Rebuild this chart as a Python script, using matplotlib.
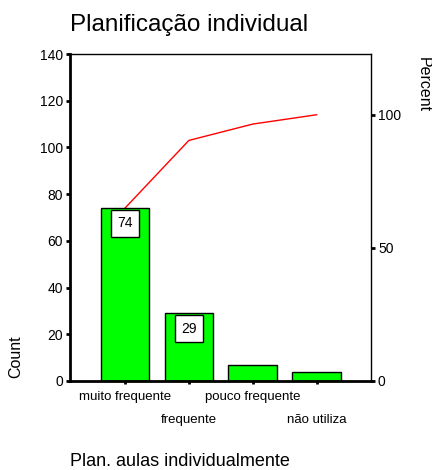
import matplotlib.pyplot as plt
import matplotlib.transforms as mtransforms
import numpy as np

plt.rcParams['font.family'] = ['Liberation Sans', 'DejaVu Sans']

categories = ["muito frequente", "frequente", "pouco frequente", "não utiliza"]
counts = [74, 29, 7, 4]
labelled = [True, True, False, False]

total = sum(counts)
cum_pct = np.cumsum(counts) / total * 100

fig = plt.figure(figsize=(4.32, 4.70), dpi=100)
ax = fig.add_axes([70 / 432, 1 - 381 / 470, 301 / 432, 327 / 470])

x = np.arange(len(categories))
bars = ax.bar(x, counts, width=0.76, color="#00ff00", edgecolor="black", linewidth=1, zorder=2)

for xi, v, show in zip(x, counts, labelled):
    if show:
        ax.annotate(str(v), (xi, v), xytext=(0, -6), textcoords="offset points",
                    ha="center", va="top", fontsize=10,
                    bbox=dict(boxstyle="square,pad=0.45", fc="white", ec="black", lw=1), zorder=4)

ax.set_xlim(-0.86, 3.85)
ax.set_ylim(0, 140)
ax.set_yticks(range(0, 141, 20))
ax.set_xticks(x)
ax.set_xticklabels(categories, fontsize=9.5)
ax.tick_params(axis="y", direction="out", length=3, width=2, labelsize=10, pad=2)
ax.tick_params(axis="x", direction="out", length=2, width=2, pad=5)
ax.spines["left"].set_linewidth(2)
ax.spines["bottom"].set_linewidth(2)
ax.spines["top"].set_linewidth(1)
ax.spines["right"].set_linewidth(1)

# stagger every second category label onto a lower row
shift = mtransforms.ScaledTranslation(0, -0.23, fig.dpi_scale_trans)
for i, lab in enumerate(ax.get_xticklabels()):
    if i % 2 == 1:
        lab.set_transform(lab.get_transform() + shift)

# percent axis scaled so that 100% lines up with the total count
ax2 = ax.twinx()
ax2.set_ylim(0, 140 / total * 100)
ax2.set_yticks([0, 50, 100])
ax2.plot(x, cum_pct, color="red", linewidth=1, zorder=3)
ax2.tick_params(axis="y", direction="out", length=3, width=2, labelsize=10, pad=2)
for s in ax2.spines.values():
    s.set_visible(False)
ax.set_zorder(ax2.get_zorder() + 1)
ax.patch.set_visible(False)

fig.text(16 / 432, 1 - 357 / 470, "Count", rotation=90, fontsize=11.5, ha="center", va="center")
fig.text(423 / 432, 1 - 57 / 470, "Percent", rotation=-90, fontsize=11.5, ha="center", va="top")
fig.text(70 / 432, 1 - 31 / 470, "Planificação individual", fontsize=17.5, ha="left", va="baseline")
fig.text(70 / 432, 1 - 466 / 470, "Plan. aulas individualmente", fontsize=13, ha="left", va="baseline")

fig.savefig("out.png", dpi=100)
